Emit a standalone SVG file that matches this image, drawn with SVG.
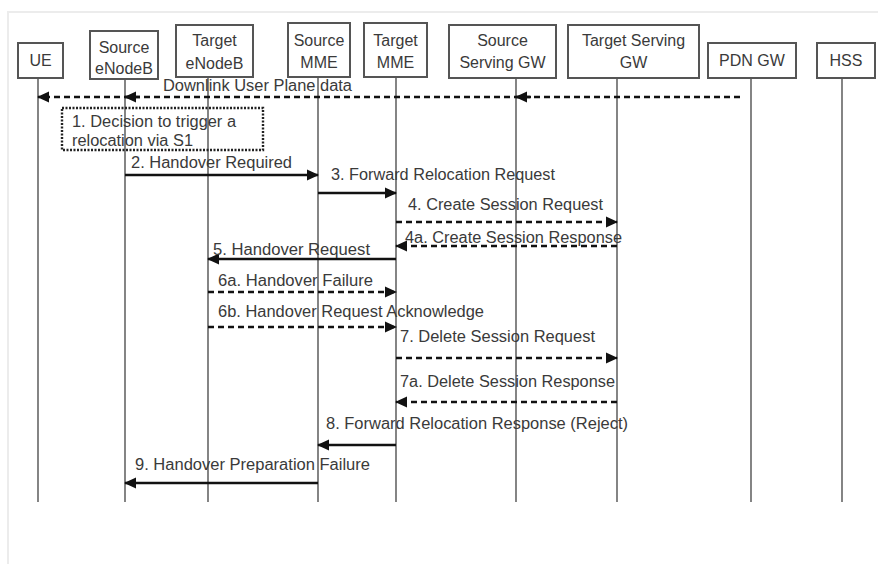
<svg xmlns="http://www.w3.org/2000/svg" width="878" height="564" viewBox="0 0 878 564">
  <style>
    .box { fill: #fff; stroke: #555; stroke-width: 2; }
    .lbl { font-family: "Liberation Sans", Arial, sans-serif; font-size: 16px; fill: #3a3a3a; text-anchor: middle; }
    .life { stroke: #666; stroke-width: 1.6; fill: none; }
    .msg { font-family: "Liberation Sans", Arial, sans-serif; font-size: 16px; fill: #3a3a3a; }
    .solid { stroke: #111; stroke-width: 2.6; fill: none; marker-end: url(#head); }
    .dash { stroke: #111; stroke-width: 2.6; fill: none; stroke-dasharray: 6 4; marker-end: url(#head); }
    .note { fill: none; stroke: #222; stroke-width: 2.4; stroke-dasharray: 2 1.5; }
  </style>
  <defs>
    <marker id="head" markerUnits="userSpaceOnUse" markerWidth="12" markerHeight="12" refX="11" refY="6" orient="auto">
      <path d="M0,0.5 L12,6 L0,11.5 Z" fill="#111"/>
    </marker>
  </defs>

  <rect width="878" height="564" fill="#fff"/>
  <!-- faint page frame -->
  <path d="M8,564 L8,12 L878,12" fill="none" stroke="#ececec" stroke-width="2"/>

  <!-- lifelines -->
  <g id="lifelines">
    <line class="life" x1="38" y1="78" x2="38" y2="502"/>
    <line class="life" x1="125" y1="79" x2="125" y2="502"/>
    <line class="life" x1="208" y1="77" x2="208" y2="502"/>
    <line class="life" x1="318" y1="77" x2="318" y2="502"/>
    <line class="life" x1="396" y1="77" x2="396" y2="502"/>
    <line class="life" x1="516" y1="78" x2="516" y2="502"/>
    <line class="life" x1="617" y1="78" x2="617" y2="502"/>
    <line class="life" x1="751" y1="78" x2="751" y2="502"/>
    <line class="life" x1="842" y1="78" x2="842" y2="502"/>
  </g>

  <!-- participants -->
  <g id="ue">
    <rect class="box" x="18" y="43" width="45" height="35"/>
    <text class="lbl" x="40.5" y="66">UE</text>
  </g>
  <g id="source-enodeb">
    <rect class="box" x="90" y="31" width="68" height="48"/>
    <text class="lbl" x="124" y="53">Source</text>
    <text class="lbl" x="124" y="74">eNodeB</text>
  </g>
  <g id="target-enodeb">
    <rect class="box" x="176" y="25" width="77" height="52"/>
    <text class="lbl" x="214.5" y="46">Target</text>
    <text class="lbl" x="214.5" y="69">eNodeB</text>
  </g>
  <g id="source-mme">
    <rect class="box" x="288" y="23" width="62" height="54"/>
    <text class="lbl" x="319" y="46">Source</text>
    <text class="lbl" x="319" y="68">MME</text>
  </g>
  <g id="target-mme">
    <rect class="box" x="364" y="23" width="63" height="54"/>
    <text class="lbl" x="395.5" y="46">Target</text>
    <text class="lbl" x="395.5" y="68">MME</text>
  </g>
  <g id="source-sgw">
    <rect class="box" x="449" y="25" width="107" height="53"/>
    <text class="lbl" x="502.5" y="46">Source</text>
    <text class="lbl" x="502.5" y="68">Serving GW</text>
  </g>
  <g id="target-sgw">
    <rect class="box" x="568" y="25" width="131" height="53"/>
    <text class="lbl" x="633.5" y="46">Target Serving</text>
    <text class="lbl" x="633.5" y="68">GW</text>
  </g>
  <g id="pdn-gw">
    <rect class="box" x="708" y="43" width="88" height="35"/>
    <text class="lbl" x="752" y="66">PDN GW</text>
  </g>
  <g id="hss">
    <rect class="box" x="817" y="43" width="58" height="35"/>
    <text class="lbl" x="846" y="66">HSS</text>
  </g>

  <!-- step 1 note -->
  <g id="step1">
    <rect class="note" x="62" y="108" width="201" height="42"/>
    <text class="msg" x="72" y="127" textLength="164" lengthAdjust="spacingAndGlyphs">1. Decision to trigger a</text>
    <text class="msg" x="72" y="146" textLength="121" lengthAdjust="spacingAndGlyphs">relocation via S1</text>
  </g>

  <!-- messages -->
  <g id="connectors">
    <line class="dash" x1="740" y1="97" x2="38" y2="97"/>
    <line class="dash" x1="140" y1="97" x2="125" y2="97"/>
    <line class="dash" x1="531" y1="97" x2="516" y2="97"/>
    <line class="solid" x1="125" y1="175" x2="318" y2="175"/>
    <line class="solid" x1="318" y1="193" x2="396" y2="193"/>
    <line class="dash" x1="396" y1="222" x2="617" y2="222"/>
    <line class="dash" x1="617" y1="246" x2="396" y2="246"/>
    <line class="solid" x1="396" y1="259" x2="208" y2="259"/>
    <line class="dash" x1="208" y1="292" x2="396" y2="292"/>
    <line class="dash" x1="208" y1="327" x2="396" y2="327"/>
    <line class="dash" x1="396" y1="358" x2="617" y2="358"/>
    <line class="dash" x1="617" y1="402" x2="396" y2="402"/>
    <line class="solid" x1="396" y1="445" x2="318" y2="445"/>
    <line class="solid" x1="318" y1="483" x2="125" y2="483"/>
  </g>

  <!-- message labels -->
  <g id="labels">
    <text class="msg" x="163" y="91" textLength="189" lengthAdjust="spacingAndGlyphs">Downlink User Plane data</text>
    <text class="msg" x="131" y="168" textLength="161" lengthAdjust="spacingAndGlyphs">2. Handover Required</text>
    <text class="msg" x="331" y="180" textLength="224" lengthAdjust="spacingAndGlyphs">3. Forward Relocation Request</text>
    <text class="msg" x="408" y="210" textLength="195" lengthAdjust="spacingAndGlyphs">4. Create Session Request</text>
    <text class="msg" x="405" y="243" textLength="217" lengthAdjust="spacingAndGlyphs">4a. Create Session Response</text>
    <text class="msg" x="213" y="255" textLength="157" lengthAdjust="spacingAndGlyphs">5. Handover Request</text>
    <text class="msg" x="218" y="286" textLength="155" lengthAdjust="spacingAndGlyphs">6a. Handover Failure</text>
    <text class="msg" x="218" y="317" textLength="266" lengthAdjust="spacingAndGlyphs">6b. Handover Request Acknowledge</text>
    <text class="msg" x="400" y="342" textLength="195" lengthAdjust="spacingAndGlyphs">7. Delete Session Request</text>
    <text class="msg" x="400" y="387" textLength="215" lengthAdjust="spacingAndGlyphs">7a. Delete Session Response</text>
    <text class="msg" x="326" y="429" textLength="302" lengthAdjust="spacingAndGlyphs">8. Forward Relocation Response (Reject)</text>
    <text class="msg" x="135" y="470" textLength="235" lengthAdjust="spacingAndGlyphs">9. Handover Preparation Failure</text>
  </g>
</svg>
